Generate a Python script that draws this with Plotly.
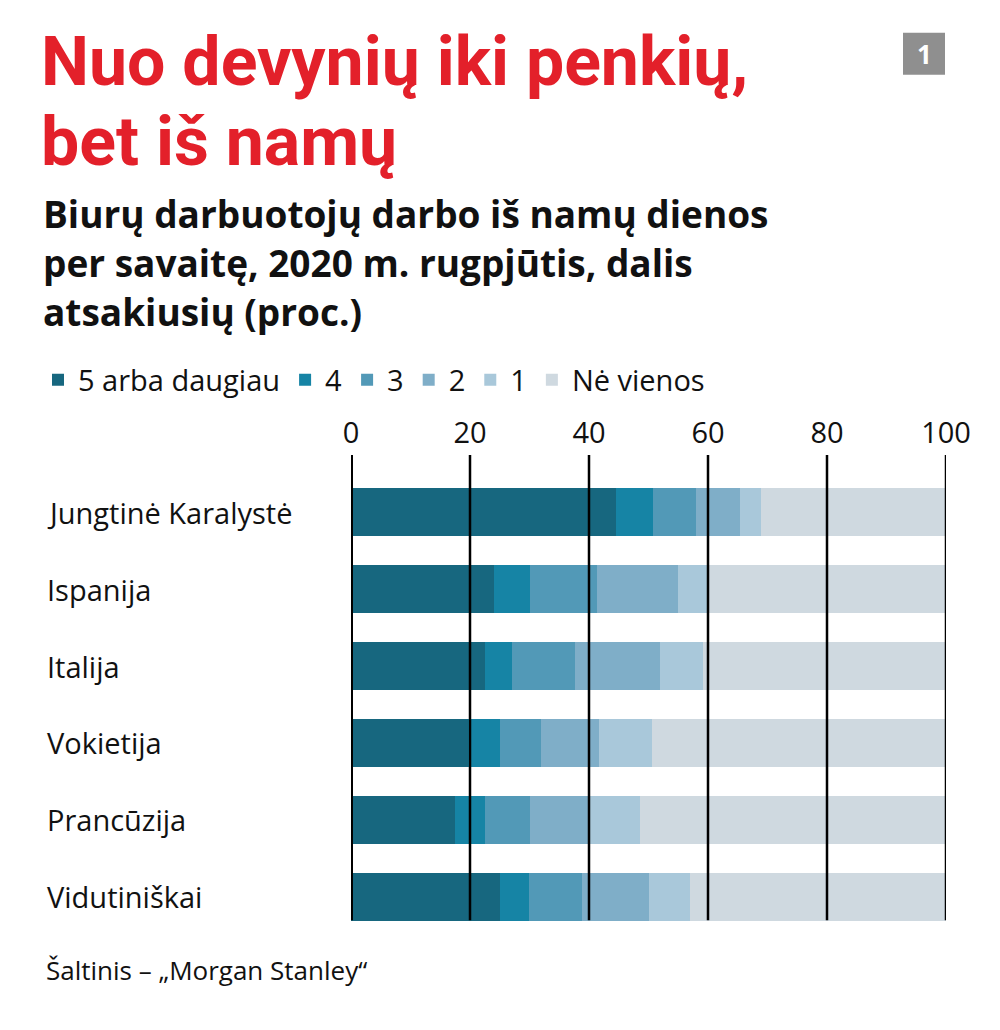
import plotly.graph_objects as go

countries = ["Jungtinė Karalystė", "Ispanija", "Italija", "Vokietija", "Prancūzija", "Vidutiniškai"]
series_names = ["5 arba daugiau", "4", "3", "2", "1", "Nė vienos"]
v5 = [44.5, 24.1, 22.5, 19.7, 17.5, 25.0]
v4 = [6.2, 6.0, 4.5, 5.3, 5.1, 4.9]
v3 = [7.3, 11.2, 10.7, 6.9, 7.5, 9.0]
v2 = [7.4, 13.6, 14.2, 9.8, 9.8, 11.1]
v1 = [3.5, 4.9, 7.2, 8.9, 8.7, 6.9]
v0 = [31.1, 40.2, 40.9, 49.4, 51.4, 43.1]
tick_vals = [0, 20, 40, 60, 80, 100]
colors = ["#17677f", "#1684a5", "#5299b7", "#7faec8", "#a9c8da", "#cfd9e0"]

FONT = "Open Sans"
TFONT = "Roboto"
OFF = 8  # page body margin
L, T, W, H = 351 - OFF, 474 - OFF, 595, 460.8

fig = go.Figure()
for name, vals, c in zip(series_names, [v5, v4, v3, v2, v1, v0], colors):
    fig.add_trace(go.Bar(y=countries, x=vals, name=name, orientation="h",
                         marker=dict(color=c, line=dict(width=0)), width=0.625))

def pxx(xp):
    return (xp - OFF - L) / W

def pxy(yp):
    return (T + H - (yp - OFF)) / H

shapes = []
for t in tick_vals:
    shapes.append(dict(type="line", xref="x", yref="paper", x0=t, x1=t, y0=pxy(920), y1=pxy(455),
                       line=dict(color="black", width=4 if t == 0 else 2.5), layer="above"))

ann = []
for c in countries:
    ann.append(dict(x=pxx(45), xref="paper", y=c, yref="y", text=c, showarrow=False,
                    xanchor="left", font=dict(size=29, color="#111", family=FONT)))

def px(xp, yp, text, size, color, bold=False, xanchor="left", yanchor="top", family=FONT):
    return dict(x=pxx(xp), y=pxy(yp), xref="paper", yref="paper",
                text=text, showarrow=False, xanchor=xanchor, yanchor=yanchor, align="left",
                borderpad=0,
                font=dict(size=size, color=color, family=family, weight="bold" if bold else "normal"))

ann.append(px(40, 62, "Nuo devynių iki penkių,", 68, "#e3202a", bold=True, yanchor="middle", family=TFONT))
ann.append(px(40, 142, "bet iš namų", 68, "#e3202a", bold=True, yanchor="middle", family=TFONT))
sub = ["Biurų darbuotojų darbo iš namų dienos", "per savaitę, 2020 m. rugpjūtis, dalis", "atsakiusių (proc.)"]
for i, s in enumerate(sub):
    ann.append(px(42, 214 + 49 * i, s, 37, "#111", bold=True, yanchor="middle"))
ann.append(px(45, 970, "Šaltinis – „Morgan Stanley“", 26, "#111", yanchor="middle"))
ann.append(px(924, 54, "1", 26, "white", bold=True, xanchor="center", yanchor="middle"))
shapes.append(dict(type="rect", xref="paper", yref="paper", x0=pxx(903), x1=pxx(945),
                   y0=pxy(75), y1=pxy(33), fillcolor="#8f8f8f", line=dict(width=0), layer="below"))

fig.update_layout(
    width=1000, height=1030, barmode="stack", bargap=0.375,
    margin=dict(l=L, r=1000 - L - W, t=T, b=1030 - T - H, pad=0),
    paper_bgcolor="white", plot_bgcolor="white",
    font=dict(family=FONT, size=28, color="#111"),
    xaxis=dict(range=[0, 100], side="top", tickvals=tick_vals, showgrid=False, zeroline=False,
               ticks="", tickfont=dict(size=29), ticklabelstandoff=24, fixedrange=True),
    yaxis=dict(autorange="reversed", showticklabels=False, showgrid=False, zeroline=False,
               categoryorder="array", categoryarray=countries),
    legend=dict(orientation="h", x=pxx(38), y=pxy(380), xanchor="left", yanchor="middle",
                font=dict(size=29, family=FONT), traceorder="normal"),
    shapes=shapes, annotations=ann, showlegend=True,
)
fig.write_html("out.html")
